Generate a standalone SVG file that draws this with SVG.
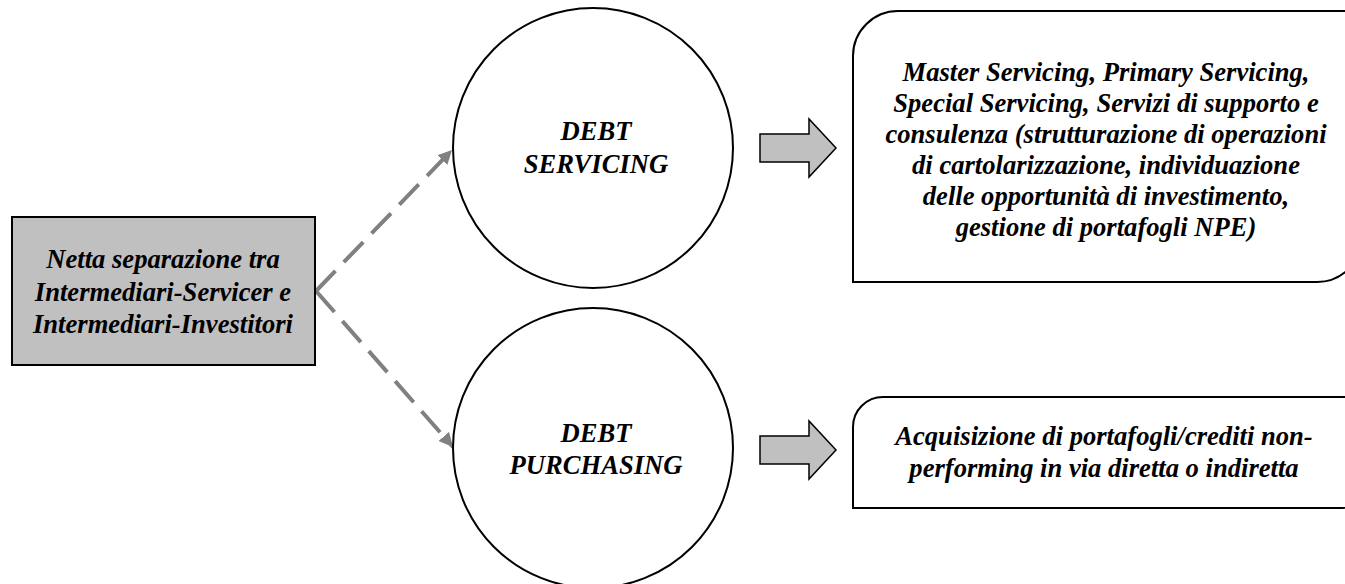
<svg xmlns="http://www.w3.org/2000/svg" width="1345" height="584" viewBox="0 0 1345 584">
<style>
  text { font-family: "Liberation Serif", "Times New Roman", serif; font-weight: bold; font-style: italic; font-size: 26.6px; fill: #000; text-anchor: middle; }
  .box { stroke: #000; stroke-width: 2; }
  .grey { fill: #c0c0c0; }
  .white { fill: #fff; }
  .circle { fill: #fff; stroke: #000; stroke-width: 2; }
  .dash { fill: none; stroke: #808080; stroke-width: 4; stroke-dasharray: 28 12; }
  .block { fill: #c0c0c0; stroke: #000; stroke-width: 1.5; stroke-linejoin: miter; }
</style>
<defs>
  <marker id="ah" markerUnits="userSpaceOnUse" markerWidth="16" markerHeight="16" refX="14" refY="7" orient="auto">
    <path d="M0,0 L14,7 L0,14 Z" fill="#808080"/>
  </marker>
</defs>
<rect width="1345" height="584" fill="#fff"/>

<g id="connectors">
  <line class="dash" x1="316" y1="291" x2="452" y2="150" marker-end="url(#ah)"/>
  <line class="dash" x1="316" y1="291" x2="453" y2="447" marker-end="url(#ah)"/>
  <path class="block" d="M760,134 L809,134 L809,119 L836,148 L809,177 L809,162 L760,162 Z"/>
  <path class="block" d="M760,436 L809,436 L809,421 L836,450 L809,479 L809,464 L760,464 Z"/>
</g>

<g id="source">
  <rect class="box grey" x="12" y="217" width="303" height="148"/>
  <text x="163" y="268">Netta separazione tra</text>
  <text x="163" y="301">Intermediari-Servicer e</text>
  <text x="163" y="333">Intermediari-Investitori</text>
</g>

<g id="debt-servicing">
  <circle class="circle" cx="593" cy="148" r="140"/>
  <text x="596" y="140">DEBT</text>
  <text x="596" y="173">SERVICING</text>
</g>

<g id="debt-purchasing">
  <circle class="circle" cx="593" cy="448" r="140"/>
  <text x="596" y="442">DEBT</text>
  <text x="596" y="474">PURCHASING</text>
</g>

<g id="servicing-detail">
  <path class="box white" d="M853,56 A45,45 0 0 1 898,11 L1362,11 L1362,237 A45,45 0 0 1 1317,282 L853,282 Z"/>
  <text x="1106" y="81">Master Servicing, Primary Servicing,</text>
  <text x="1106" y="112">Special Servicing, Servizi di supporto e</text>
  <text x="1106" y="143">consulenza (strutturazione di operazioni</text>
  <text x="1106" y="174">di cartolarizzazione, individuazione</text>
  <text x="1106" y="205">delle opportunità di investimento,</text>
  <text x="1106" y="236">gestione di portafogli NPE)</text>
</g>

<g id="purchasing-detail">
  <path class="box white" d="M853,427 A30,30 0 0 1 883,397 L1372,397 L1372,478 A30,30 0 0 1 1342,508 L853,508 Z"/>
  <text x="1104" y="445">Acquisizione di portafogli/crediti non-</text>
  <text x="1104" y="477">performing in via diretta o indiretta</text>
</g>
</svg>
